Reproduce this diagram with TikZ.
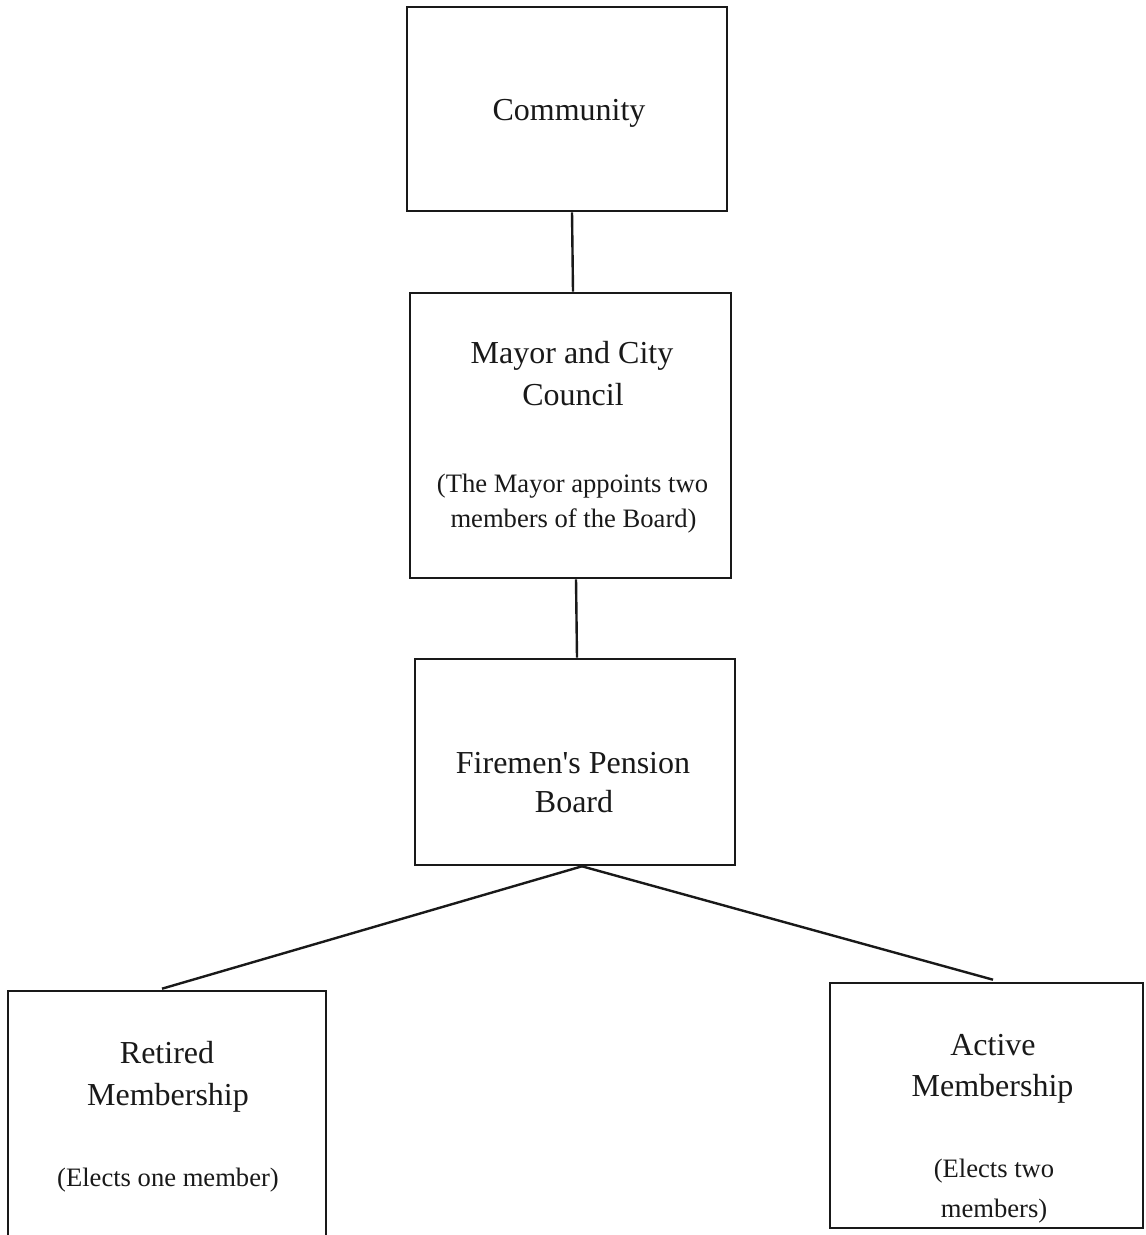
\documentclass[tikz,border=0pt]{standalone}
\usepackage{fontspec}
\setmainfont{Liberation Serif}
\usetikzlibrary{calc}
\begin{document}
\begin{tikzpicture}[x=0.5pt,y=-0.5pt,
  box/.style={draw=black!90, line width=1.3pt, rectangle, inner sep=0pt},
  big/.style={anchor=base, inner sep=0pt, font=\fontsize{16}{19}\selectfont, text=black!90},
  small/.style={anchor=base, inner sep=0pt, font=\fontsize{13.3}{16}\selectfont, text=black!90},
  link/.style={draw=black!90, line width=1.2pt}]
\useasboundingbox[fill=white] (0,0) rectangle (1145,1235);
\clip (0,0) rectangle (1145,1235);
% boxes
\node[box, minimum width=160pt, minimum height=102pt] (comm) at (567,109) {};
\node[box, minimum width=160.5pt, minimum height=142.5pt] (mayor) at (570.5,435.5) {};
\node[box, minimum width=160pt, minimum height=103pt] (fire) at (575,762) {};
\node[box, minimum width=159pt, minimum height=127pt] (ret) at (167,1118) {};
\node[box, minimum width=156.5pt, minimum height=122.5pt] (act) at (986.5,1105.5) {};
% texts
\node[big] (commT) at (569,121) {Community};
\node[big] (mayorT1) at (572,364) {Mayor and City};
\node[big] (mayorT2) at (573,405) {Council};
\node[small] (mayorT3) at (572.5,492) {(The Mayor appoints two};
\node[small] (mayorT4) at (573.5,527) {members of the Board)};
\node[big] (fireT1) at (573,773) {Firemen\textquotesingle s Pension};
\node[big] (fireT2) at (574,812) {Board};
\node[big] (retT1) at (167,1063) {Retired};
\node[big] (retT2) at (168,1105) {Membership};
\node[small] (retT3) at (168,1186) {(Elects one member)};
\node[big] (actT1) at (993,1055) {Active};
\node[big] (actT2) at (992.5,1096) {Membership};
\node[small] (actT3) at (994,1177) {(Elects two};
\node[small] (actT4) at (994,1217) {members)};
% connectors
\draw[link] ($(comm.south)+(5,0)$) -- ($(mayor.north)+(2.5,0)$);
\draw[link] ($(mayor.south)+(5.5,0)$) -- ($(fire.north)+(2,0)$);
\draw[link] ($(fire.south)+(7,0)$) -- ($(ret.north)+(-5,-1)$);
\draw[link] ($(fire.south)+(7,0)$) -- ($(act.north)+(6.5,-2)$);
\end{tikzpicture}
\end{document}
